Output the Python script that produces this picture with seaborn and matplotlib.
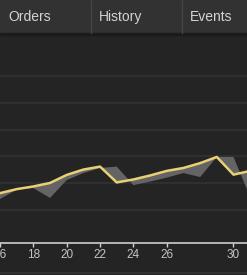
import pandas as pd
import matplotlib.pyplot as plt
import seaborn as sns
from matplotlib.patches import Rectangle
from matplotlib.lines import Line2D

# --- data ---
days = [16, 17, 18, 19, 20, 21, 22, 23, 24, 25, 26, 27, 28, 29, 30, 31]
current = [16.3, 17.8, 18.8, 20.1, 23.1, 25.1, 26.2, 20.3, 21.4, 22.9, 24.6, 25.7, 27.5, 29.8, 23.2, 24.6]
previous = [14.1, 17.6, 18.2, 14.5, 21.2, 23.8, 25.7, 26.2, 19.3, 20.6, 22.1, 23.8, 22.3, 29.8, 29.8, 14.9]
x_ticks = [16, 18, 20, 22, 24, 26, 30]
grid_values = [10, 20, 30, 40, 50, 60]
tabs = ["Orders", "History", "Events"]

df = pd.DataFrame({"day": days, "current": current, "previous": previous})

sns.set_theme(style="dark")
plt.rcParams['font.family'] = ['Liberation Sans', 'DejaVu Sans']

BG = "#242424"
fig = plt.figure(figsize=(2.47, 2.75), dpi=100, facecolor=BG)
ax = fig.add_axes([0, 32 / 275, 1, 208 / 275])
ax.set_facecolor(BG)

# band between the two series, then the highlighted line
ax.fill_between(df["day"], df["current"], df["previous"], color="#646464", linewidth=0, zorder=2)
sns.lineplot(data=df, x="day", y="current", color="#e8d074", linewidth=1.8, ax=ax, zorder=3)

ax.set_xlim(16.11, 30.81)
ax.set_ylim(-2.3, 75.3)
ax.set_xticks(x_ticks)
ax.set_yticks(grid_values)
ax.set_yticklabels([])
ax.grid(axis="y", color="#313131", linewidth=1.3)
ax.grid(axis="x", visible=False)
ax.set_xlabel("")
ax.set_ylabel("")
for side in ["top", "left", "right"]:
    ax.spines[side].set_visible(False)
ax.spines["bottom"].set_color("#cfcfcf")
ax.spines["bottom"].set_linewidth(1.2)
ax.tick_params(axis="x", colors="#cfcfcf", labelcolor="#c4c4c4", length=3, width=1,
               labelsize=8.5, pad=1.5, direction="out", bottom=True)
ax.tick_params(axis="y", length=0)

# tab bar on top
fig.patches.append(Rectangle((0, 1 - 33 / 275), 1, 33 / 275, transform=fig.transFigure,
                             color="#323232", zorder=5))
fig.patches.append(Rectangle((0, 1 - 35 / 275), 1, 2 / 275, transform=fig.transFigure,
                             color="#1b1b1b", zorder=5))
for xp in [90.5, 181.5]:
    fig.lines.append(Line2D([xp / 247, xp / 247], [1 - 33 / 275, 1], transform=fig.transFigure,
                            color="#444444", linewidth=1, zorder=6))
for label, xp in zip(tabs, [8, 99, 190]):
    fig.text(xp / 247, 1 - 17 / 275, label, color="#d4d4d4", fontsize=10,
             ha="left", va="center", zorder=7)

# thin separator at the bottom
fig.lines.append(Line2D([0, 1], [2.5 / 275, 2.5 / 275], transform=fig.transFigure,
                        color="#363636", linewidth=1.2))

fig.savefig("out.png", dpi=100, facecolor=BG)
